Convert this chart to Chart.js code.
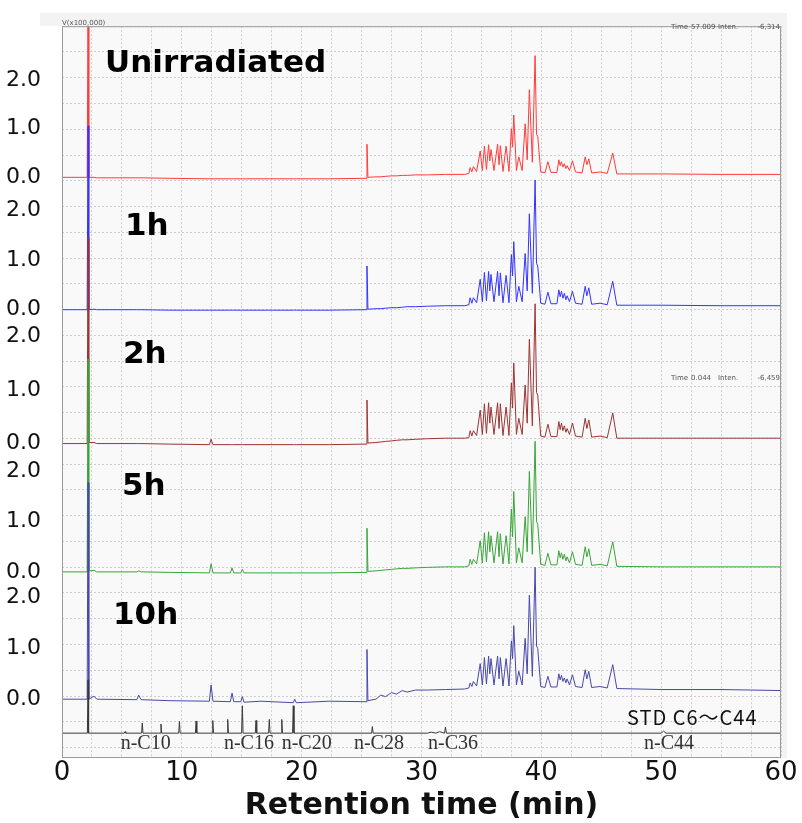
<!DOCTYPE html>
<html>
<head>
<meta charset="utf-8">
<script src="https://cdn.jsdelivr.net/npm/chart.js@4.4.1/dist/chart.umd.min.js"></script>
<style>
  html, body { margin: 0; padding: 0; background: #fff; }
  canvas { display: block; }
</style>
</head>
<body>
<canvas id="chromChart" width="802" height="823"></canvas>
<script>
// retention time (min), shared by the five irradiation runs
const retentionTime = [
  0, 2.1, 2.17, 2.24, 2.67, 2.9, 6.25, 6.4, 6.6, 9.0, 12.3, 12.44, 12.6, 14.05, 14.19, 14.33,
  14.92, 15.05, 15.18, 16.6, 19.3, 19.42, 19.55, 22.3, 25.37, 25.45, 25.53,
  26.2, 26.6, 27.0, 27.5, 27.9, 28.4, 28.8, 29.5, 30.5, 32.0, 33.6,
  33.95, 34.06, 34.2, 34.33, 34.6, 34.9, 35.08, 35.25, 35.42, 35.6,
  35.7, 35.8, 36.05, 36.35, 36.47, 36.58, 36.8, 37.06, 37.3, 37.5,
  37.6, 37.7, 37.92, 38.12, 38.4, 38.65, 38.82, 39.0, 39.25, 39.48,
  39.6, 39.7, 39.95, 40.3, 40.55, 40.8, 41.3, 41.46, 41.57, 41.68,
  41.8, 41.92, 42.05, 42.15, 42.35, 42.6, 42.85, 43.4, 43.66, 43.8,
  43.96, 44.2, 44.9, 45.5, 45.96, 46.3,
  50, 55, 60
];

// intensity (x100,000) of each run
const unirradiated = [
  0, 0, 3.3, 0, 0, -0.01, -0.01, -0.01, -0.01, -0.02, -0.03, -0.03, -0.03, -0.03, -0.03, -0.03,
  -0.03, -0.03, -0.03, -0.03, -0.03, -0.03, -0.03, -0.03, -0.02, 0.68, 0.0,
  0.01, 0.01, 0.02, 0.03, 0.03, 0.04, 0.04, 0.05, 0.05, 0.06, 0.06,
  0.08, 0.2, 0.11, 0.22, 0.12, 0.54, 0.14, 0.64, 0.16, 0.67,
  0.34, 0.57, 0.14, 0.68, 0.26, 0.65, 0.12, 0.64, 0.12, 1.0,
  0.62, 1.28, 0.14, 0.42, 0.14, 1.1, 0.36, 1.8, 0.31, 2.5,
  0.88, 0.84, 0.11, 0.09, 0.32, 0.1, 0.1, 0.36, 0.24, 0.32,
  0.21, 0.28, 0.18, 0.24, 0.14, 0.34, 0.11, 0.09, 0.42, 0.26,
  0.38, 0.09, 0.11, 0.08, 0.5, 0.07,
  0.07, 0.06, 0.06
];
const irr1h = [
  0, 0, 3.7, 0, 0.01, 0, 0, 0, 0, -0.01, -0.01, -0.01, -0.01, -0.01, -0.01, -0.01,
  -0.01, -0.01, -0.01, -0.01, -0.01, -0.01, -0.01, -0.01, 0, 0.88, 0.01,
  0.02, 0.02, 0.03, 0.04, 0.04, 0.05, 0.06, 0.06, 0.07, 0.08, 0.08,
  0.1, 0.24, 0.13, 0.24, 0.14, 0.61, 0.16, 0.75, 0.18, 0.77,
  0.38, 0.71, 0.16, 0.77, 0.28, 0.74, 0.14, 0.69, 0.14, 1.11,
  0.68, 1.37, 0.16, 0.47, 0.16, 1.13, 0.38, 1.93, 0.33, 2.61,
  0.93, 0.88, 0.13, 0.11, 0.35, 0.12, 0.12, 0.4, 0.26, 0.37,
  0.23, 0.33, 0.2, 0.28, 0.16, 0.37, 0.13, 0.11, 0.47, 0.28,
  0.44, 0.11, 0.13, 0.1, 0.57, 0.09,
  0.09, 0.08, 0.08
];
const irr2h = [
  0, 0, 3.83, 0.02, 0.02, 0, 0, 0, 0, -0.01, -0.02, 0.08, -0.02, -0.02, -0.02, -0.02,
  -0.02, -0.02, -0.02, -0.02, -0.02, -0.02, -0.02, -0.02, -0.01, 0.81, 0.01,
  0.02, 0.03, 0.04, 0.05, 0.06, 0.07, 0.07, 0.08, 0.09, 0.1, 0.1,
  0.11, 0.24, 0.14, 0.24, 0.15, 0.62, 0.17, 0.74, 0.19, 0.76,
  0.38, 0.68, 0.17, 0.76, 0.28, 0.74, 0.15, 0.68, 0.15, 1.13,
  0.66, 1.5, 0.17, 0.47, 0.17, 1.09, 0.38, 1.94, 0.33, 2.6,
  0.95, 0.9, 0.14, 0.12, 0.36, 0.13, 0.13, 0.41, 0.26, 0.38,
  0.24, 0.33, 0.21, 0.28, 0.17, 0.38, 0.14, 0.12, 0.47, 0.28,
  0.44, 0.12, 0.14, 0.11, 0.57, 0.1,
  0.1, 0.1, 0.1
];
const irr5h = [
  0, 0, 4.24, 0.02, 0.03, 0, 0, 0.02, 0, -0.01, -0.02, 0.16, -0.02, -0.02, 0.08, -0.02,
  -0.02, 0.05, -0.02, -0.02, -0.02, -0.02, -0.02, -0.02, -0.01, 0.87, 0.01,
  0.02, 0.03, 0.04, 0.05, 0.06, 0.07, 0.07, 0.08, 0.09, 0.1, 0.1,
  0.12, 0.25, 0.15, 0.25, 0.16, 0.62, 0.18, 0.78, 0.2, 0.8,
  0.4, 0.72, 0.18, 0.8, 0.3, 0.76, 0.16, 0.72, 0.16, 1.25,
  0.7, 1.6, 0.18, 0.48, 0.18, 1.1, 0.4, 2.0, 0.35, 2.6,
  1.0, 0.95, 0.15, 0.13, 0.37, 0.14, 0.14, 0.42, 0.28, 0.38,
  0.25, 0.35, 0.22, 0.3, 0.18, 0.4, 0.15, 0.13, 0.5, 0.3,
  0.46, 0.13, 0.15, 0.12, 0.6, 0.11,
  0.1, 0.1, 0.1
];
const irr10h = [
  0, 0, 4.27, 0, 0.06, 0, -0.01, 0.08, -0.01, -0.03, -0.04, 0.28, -0.04, -0.05, 0.12, -0.05,
  -0.05, 0.05, -0.06, -0.04, -0.07, 0.0, -0.07, -0.04, -0.05, 0.98, -0.03,
  0.0, 0.08, 0.05, 0.13, 0.1, 0.17, 0.14, 0.18, 0.18, 0.19, 0.2,
  0.22, 0.32, 0.25, 0.35, 0.26, 0.7, 0.28, 0.82, 0.3, 0.85,
  0.5, 0.8, 0.28, 0.85, 0.4, 0.82, 0.26, 0.8, 0.26, 1.15,
  0.8, 1.45, 0.28, 0.55, 0.28, 1.2, 0.5, 2.05, 0.45, 2.6,
  1.05, 1.0, 0.25, 0.23, 0.45, 0.24, 0.24, 0.5, 0.38, 0.47,
  0.35, 0.42, 0.32, 0.4, 0.28, 0.48, 0.25, 0.23, 0.58, 0.4,
  0.55, 0.23, 0.25, 0.22, 0.68, 0.21,
  0.19, 0.19, 0.17
];

// n-alkane standard C6-C44
const stdTime = [
  0, 2.12, 2.17, 2.22, 5.2, 5.26, 5.32, 6.64, 6.7, 6.76, 8.2, 8.26, 8.32,
  9.74, 9.8, 9.86, 11.13, 11.19, 11.25, 12.52, 12.58, 12.64, 13.77, 13.83, 13.89,
  14.99, 15.05, 15.11, 16.13, 16.19, 16.25, 17.24, 17.3, 17.36, 18.28, 18.34, 18.4,
  19.24, 19.3, 19.36, 25.84, 25.9, 25.96, 30.5, 30.8, 31.2, 31.5, 31.92, 32.0, 32.08,
  50.0, 50.2, 50.4, 60
];
const stdSignal = [
  0, 0, 1.05, 0, 0, 0.03, 0, 0, 0.2, 0, 0, 0.18, 0,
  0, 0.23, 0, 0, 0.24, 0, 0, 0.25, 0, 0, 0.27, 0,
  0, 0.54, 0, 0, 0.25, 0, 0, 0.27, 0, 0, 0.27, 0,
  0, 0.54, 0, 0, 0.13, 0, 0, 0.02, 0, 0.03, 0, 0.12, 0,
  0, 0.04, 0, 0
];
const stdPeakNames = ["n-C10", "n-C16", "n-C20", "n-C28", "n-C36", "n-C44"];
const stdPeakNameTime = [6.98, 15.6, 20.42, 26.45, 32.63, 50.66];

const yTickValues = [0, 1, 2];
const xLabelEvery = 10;

// vertical placement of each stacked run (axis units) and its label
const Y_MAX = 14.43;
const traces = [
  { name: "Unirradiated", values: unirradiated, color: "#ff3b3b", base: 11.45, scale: 0.96, labelT: 3.59, labelV: 2.33 },
  { name: "1h", values: irr1h, color: "#3434ff", base: 8.84, scale: 0.98, labelT: 5.26, labelV: 1.66 },
  { name: "2h", values: irr2h, color: "#9c3434", base: 6.2, scale: 1.06, labelT: 5.09, labelV: 1.65 },
  { name: "5h", values: irr5h, color: "#39a539", base: 3.67, scale: 0.99, labelT: 5.0, labelV: 1.7 },
  { name: "10h", values: irr10h, color: "#4848aa", base: 1.16, scale: 1.0, labelT: 4.26, labelV: 1.65 }
];
const stdTrace = { base: 0.49, scale: 1.0, color: "#3a3a3a" };

const yTicks = [];
traces.forEach(tr => {
  yTickValues.forEach(v => yTicks.push({ value: tr.base + tr.scale * v, label: v.toFixed(1) }));
});
yTicks.sort((a, b) => a.value - b.value);

function toPoints(times, values, tr) {
  return times.map((t, i) => ({ x: t, y: tr.base + tr.scale * values[i] }));
}

const datasets = [{
  label: "STD C6～C44",
  data: toPoints(stdTime, stdSignal, stdTrace),
  borderColor: stdTrace.color
}];
traces.slice().reverse().forEach(tr => {
  datasets.push({
    label: tr.name,
    data: toPoints(retentionTime, tr.values, tr),
    borderColor: tr.color
  });
});
datasets.forEach(ds => {
  ds.borderWidth = 1;
  ds.pointRadius = 0;
  ds.fill = false;
  ds.tension = 0;
});

const decor = {
  id: "decor",
  beforeDraw(chart) {
    const { ctx, chartArea: a } = chart;
    ctx.save();
    ctx.fillStyle = "#ffffff";
    ctx.fillRect(0, 0, chart.width, chart.height);
    ctx.fillStyle = "#f3f3f3";
    ctx.fillRect(40, 13, a.right + 6 - 40, a.top - 13);
    ctx.fillRect(a.right, 13, 6, a.bottom - 13);
    ctx.fillStyle = "#f9f9f9";
    ctx.fillRect(a.left, a.top, a.width, a.height);
    ctx.restore();
  },
  afterDraw(chart) {
    const { ctx, chartArea: a } = chart;
    const xs = chart.scales.x, ys = chart.scales.y;
    ctx.save();
    ctx.strokeStyle = "#9a9a9a";
    ctx.lineWidth = 1;
    ctx.strokeRect(a.left + 0.5, a.top + 0.5, a.width - 1, a.height - 1);

    ctx.fillStyle = "#000";
    ctx.font = 'bold 31px "DejaVu Sans"';
    ctx.textAlign = "left";
    ctx.textBaseline = "middle";
    traces.forEach(tr => {
      ctx.fillText(tr.name, xs.getPixelForValue(tr.labelT), ys.getPixelForValue(tr.base + tr.scale * tr.labelV));
    });

    ctx.font = '20px "Noto Sans CJK JP"';
    ctx.fillStyle = "#111";
    ctx.letterSpacing = "1px";
    ctx.fillText("STD C6～C44", xs.getPixelForValue(47.15), ys.getPixelForValue(stdTrace.base + 0.31));
    ctx.letterSpacing = "0px";

    ctx.font = '20px "Liberation Serif"';
    ctx.fillStyle = "#333";
    ctx.textAlign = "center";
    stdPeakNames.forEach((n, i) => {
      ctx.fillText(n, xs.getPixelForValue(stdPeakNameTime[i]), ys.getPixelForValue(stdTrace.base - 0.2));
    });

    ctx.font = '7px "DejaVu Sans"';
    ctx.fillStyle = "#555";
    ctx.textAlign = "left";
    ctx.fillText("V(x100,000)", a.left, a.top - 3);
    const info = (y, time, inten) => {
      ctx.textAlign = "left";
      ctx.fillText("Time", 671, y);
      ctx.fillText(time, 691, y);
      ctx.fillText("Inten.", 718, y);
      ctx.textAlign = "right";
      ctx.fillText(inten, 780, y);
    };
    info(27, "57.009", "-6,314");
    info(378, "0.044", "-6,459");
    ctx.restore();
  }
};

Chart.defaults.font.family = '"DejaVu Sans", sans-serif';

new Chart(document.getElementById("chromChart"), {
  type: "line",
  data: { datasets: datasets },
  plugins: [decor],
  options: {
    responsive: false,
    animation: false,
    devicePixelRatio: 1,
    layout: { padding: { top: 22, right: 21, left: 0, bottom: 0 } },
    plugins: {
      legend: { display: false },
      tooltip: { enabled: false }
    },
    scales: {
      x: {
        type: "linear",
        position: "bottom",
        min: 0,
        max: 60,
        afterFit: s => { s.height = 65; },
        grid: { color: "#cfcfcf", drawTicks: false },
        border: { display: false, dash: [2, 2] },
        ticks: {
          stepSize: 2.5,
          autoSkip: false,
          maxRotation: 0,
          padding: 0,
          color: "#111",
          font: { size: 26 },
          callback: v => (v % xLabelEvery === 0 ? String(v) : "")
        },
        title: {
          display: true,
          text: "Retention time (min)",
          color: "#111",
          font: { size: 30, weight: "bold", lineHeight: 1 },
          padding: { top: 0, bottom: 2 }
        }
      },
      y: {
        type: "linear",
        position: "left",
        min: 0,
        max: Y_MAX,
        afterFit: s => { s.width = 62; },
        afterBuildTicks: s => { s.ticks = yTicks.map(t => ({ value: t.value })); },
        grid: { display: false },
        border: { display: false },
        ticks: {
          autoSkip: false,
          padding: 13,
          color: "#111",
          font: { size: 22 },
          callback: (v, i) => yTicks[i].label
        }
      },
      yg: {
        type: "linear",
        position: "right",
        min: 0,
        max: Y_MAX,
        afterFit: s => { s.width = 0; },
        afterBuildTicks: s => {
          const t = [];
          for (let v = Y_MAX; v > 0; v -= 0.508) t.push({ value: v });
          s.ticks = t;
        },
        grid: { color: "#cfcfcf", drawTicks: false },
        border: { display: false, dash: [2, 2] },
        ticks: { display: false }
      }
    }
  }
});
</script>
</body>
</html>
